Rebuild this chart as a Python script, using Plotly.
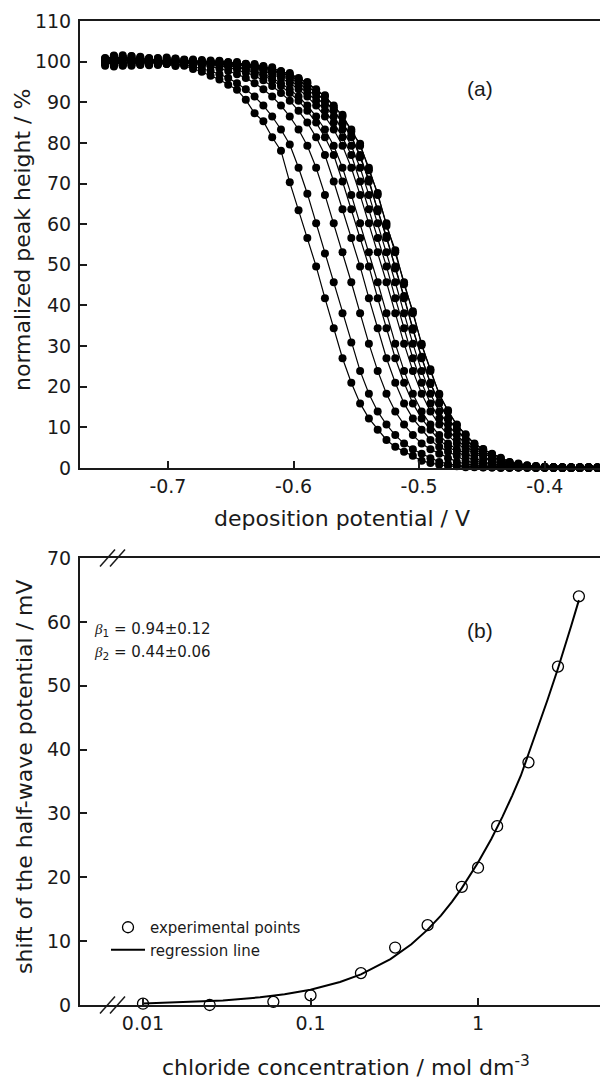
import plotly.graph_objects as go

# ---------------- panel (a): normalized peak height vs deposition potential
potential_V = [-0.750, -0.743, -0.736, -0.729, -0.722, -0.715, -0.708, -0.701, -0.694, -0.687,
               -0.680, -0.673, -0.666, -0.659, -0.652, -0.645, -0.638, -0.631, -0.624, -0.617,
               -0.610, -0.603, -0.596, -0.589, -0.582, -0.575, -0.568, -0.561, -0.554, -0.547,
               -0.540, -0.533, -0.526, -0.519, -0.512, -0.505, -0.498, -0.491, -0.484, -0.477,
               -0.470, -0.463, -0.456, -0.449, -0.442, -0.435, -0.428, -0.421, -0.414, -0.407,
               -0.400, -0.393, -0.386, -0.379, -0.372, -0.365, -0.358]

height_c4_0 = [99.0, 100.6, 101.2, 99.3, 100.5, 99.1, 100.2, 99.6, 98.9, 99.0,
               98.2, 97.5, 96.5, 95.6, 94.3, 93.1, 90.6, 87.3, 85.3, 81.4,
               78.1, 70.3, 63.4, 56.6, 49.6, 41.8, 34.4, 27.0, 21.0, 15.9,
               12.2, 9.4, 6.9, 5.2, 4.0, 3.0, 1.8, 1.2, 0.8, 0.5,
               0.4, 0.2, 0.2, 0.1, 0.1, 0.0, 0.2, 0.1, 0.0, 0.1,
               0.2, 0.0, 0.1, 0.0, 0.1, 0.2, 0.0]
height_c3_0 = [100.3, 98.8, 101.0, 100.1, 99.4, 100.7, 99.8, 99.6, 99.4, 99.2,
               98.8, 98.3, 97.7, 96.9, 96.0, 94.7, 93.2, 91.4, 89.2, 86.5,
               83.3, 79.6, 73.9, 67.5, 60.2, 52.8, 45.7, 38.1, 30.9, 23.9,
               18.3, 13.9, 10.7, 8.1, 6.0, 4.6, 3.5, 2.4, 1.5, 1.0,
               0.7, 0.4, 0.3, 0.2, 0.1, 0.1, 0.0, 0.1, 0.2, 0.0,
               0.1, 0.0, 0.1, 0.2, 0.0, 0.1, 0.0]
height_c2_0 = [99.6, 101.4, 99.2, 100.4, 100.9, 99.5, 100.3, 99.7, 100.2, 99.6,
               99.4, 99.1, 98.8, 98.3, 97.7, 96.9, 96.0, 94.7, 93.2, 91.4,
               89.2, 86.5, 83.3, 79.3, 73.9, 67.2, 60.2, 53.1, 45.7, 38.1,
               30.6, 23.9, 18.3, 13.9, 10.7, 8.1, 6.0, 4.6, 3.5, 2.4,
               1.5, 1.0, 0.7, 0.4, 0.3, 0.2, 0.1, 0.1, 0.2, 0.0,
               0.1, 0.1, 0.0, 0.2, 0.1, 0.0, 0.1]
height_c1_3 = [100.8, 99.3, 100.1, 101.3, 99.6, 100.4, 99.5, 100.6, 99.8, 99.8,
               99.7, 99.5, 99.3, 99.0, 98.6, 98.0, 97.3, 96.6, 95.4, 94.0,
               92.3, 90.4, 87.9, 85.0, 81.4, 77.0, 70.5, 63.7, 56.6, 49.6,
               41.8, 34.4, 27.0, 21.0, 15.9, 12.2, 9.4, 6.9, 5.2, 4.0,
               3.0, 1.8, 1.2, 0.8, 0.5, 0.3, 0.2, 0.2, 0.1, 0.1,
               0.0, 0.2, 0.1, 0.0, 0.1, 0.2, 0.1]
height_c1_0 = [99.4, 100.2, 101.6, 99.0, 100.5, 100.9, 99.4, 100.3, 99.2, 100.4,
               99.8, 99.7, 99.5, 99.3, 99.0, 98.6, 98.0, 97.3, 96.6, 95.4,
               94.0, 92.3, 90.4, 87.9, 85.0, 81.4, 77.0, 70.5, 63.7, 56.6,
               49.6, 41.8, 34.4, 27.0, 21.0, 15.9, 12.2, 9.4, 6.9, 5.2,
               4.0, 3.0, 1.8, 1.2, 0.8, 0.5, 0.3, 0.2, 0.2, 0.1,
               0.1, 0.2, 0.0, 0.1, 0.2, 0.0, 0.1]
height_c0_8 = [100.1, 99.5, 100.7, 101.1, 99.3, 100.0, 100.8, 99.6, 100.3, 99.5,
               100.2, 99.8, 99.6, 99.4, 99.2, 98.8, 98.3, 97.7, 96.9, 96.0,
               94.7, 93.2, 91.4, 89.2, 86.5, 83.3, 79.3, 73.9, 67.2, 60.2,
               53.1, 45.7, 38.1, 30.6, 23.9, 18.3, 13.9, 10.7, 8.1, 6.0,
               4.6, 3.5, 2.4, 1.5, 1.0, 0.7, 0.4, 0.3, 0.2, 0.1,
               0.2, 0.1, 0.0, 0.1, 0.2, 0.1, 0.0]
height_c0_5 = [99.7, 100.9, 99.1, 100.5, 101.0, 99.6, 100.3, 99.4, 100.6, 99.7,
               100.1, 99.9, 99.8, 99.6, 99.4, 99.2, 98.8, 98.3, 97.7, 96.9,
               96.0, 94.7, 93.2, 91.4, 89.2, 86.5, 83.3, 79.3, 73.9, 67.2,
               60.2, 53.1, 45.7, 38.1, 30.6, 23.9, 18.3, 13.9, 10.7, 8.1,
               6.0, 4.6, 3.5, 2.4, 1.5, 1.0, 0.7, 0.4, 0.3, 0.2,
               0.1, 0.1, 0.0, 0.2, 0.1, 0.0, 0.1]
height_c0_32 = [100.4, 99.2, 100.8, 99.9, 100.6, 99.3, 100.2, 99.5, 100.7, 99.6,
                100.0, 99.9, 99.8, 99.7, 99.5, 99.3, 99.0, 98.6, 98.0, 97.3,
                96.6, 95.4, 94.0, 92.3, 90.4, 87.9, 85.0, 81.4, 77.0, 70.5,
                63.7, 56.6, 49.6, 41.8, 34.4, 27.0, 21.0, 15.9, 12.2, 9.4,
                6.9, 5.2, 4.0, 3.0, 1.8, 1.2, 0.8, 0.5, 0.3, 0.2,
                0.2, 0.1, 0.1, 0.0, 0.1, 0.2, 0.0]
height_c0_2 = [100.2, 101.3, 99.4, 100.0, 99.2, 100.8, 100.1, 99.6, 100.4, 99.8,
               100.3, 99.9, 99.9, 99.8, 99.6, 99.4, 99.2, 98.8, 98.3, 97.7,
               96.9, 96.0, 94.7, 93.2, 91.4, 89.2, 86.5, 83.3, 79.3, 73.9,
               67.2, 60.2, 53.1, 45.7, 38.1, 30.6, 23.9, 18.3, 13.9, 10.7,
               8.1, 6.0, 4.6, 3.5, 2.4, 1.5, 1.0, 0.7, 0.4, 0.3,
               0.2, 0.1, 0.2, 0.1, 0.0, 0.1, 0.1]
height_c0_1 = [99.5, 100.6, 101.0, 99.3, 100.4, 99.7, 100.9, 99.5, 100.2, 99.6,
               100.5, 99.8, 100.1, 99.8, 99.7, 99.5, 99.3, 99.0, 98.6, 98.0,
               97.3, 96.6, 95.4, 94.0, 92.3, 90.4, 87.9, 85.0, 81.4, 77.0,
               70.5, 63.7, 56.6, 49.6, 41.8, 34.4, 27.0, 21.0, 15.9, 12.2,
               9.4, 6.9, 5.2, 4.0, 3.0, 1.8, 1.2, 0.8, 0.5, 0.3,
               0.2, 0.2, 0.1, 0.1, 0.0, 0.1, 0.2]
height_c0_06 = [100.9, 99.1, 100.3, 101.4, 99.6, 100.5, 99.2, 100.7, 99.9, 100.4,
                99.5, 100.2, 99.7, 100.1, 99.9, 99.4, 99.5, 98.8, 98.9, 97.7,
                97.6, 96.2, 95.8, 93.7, 92.6, 90.1, 88.3, 84.6, 81.9, 76.5,
                71.0, 63.2, 57.1, 49.1, 42.3, 34.0, 27.4, 20.7, 16.2, 12.0,
                9.6, 6.8, 5.3, 3.9, 3.1, 1.8, 1.3, 0.7, 0.5, 0.4,
                0.2, 0.1, 0.2, 0.1, 0.0, 0.1, 0.0]
height_c0_01 = [99.8, 100.2, 99.0, 100.6, 101.2, 99.4, 100.3, 99.7, 100.8, 99.6,
                100.2, 99.7, 100.3, 99.9, 99.8, 99.6, 99.4, 99.2, 98.8, 98.3,
                97.7, 96.9, 96.0, 94.7, 93.2, 91.4, 89.2, 86.5, 83.3, 79.3,
                73.9, 67.2, 60.2, 53.1, 45.7, 38.1, 30.6, 23.9, 18.3, 13.9,
                10.7, 8.1, 6.0, 4.6, 3.5, 2.4, 1.5, 1.0, 0.7, 0.4,
                0.3, 0.2, 0.1, 0.1, 0.2, 0.0, 0.1]
height_c0_025 = [100.5, 101.5, 99.6, 99.9, 100.7, 100.1, 99.5, 101.0, 99.8, 100.5,
                 99.9, 100.4, 99.6, 100.2, 99.6, 99.9, 99.2, 99.4, 98.5, 98.6,
                 97.4, 97.2, 95.7, 95.0, 92.8, 91.7, 88.8, 86.9, 82.8, 79.8,
                 73.3, 67.7, 59.6, 53.6, 45.2, 38.6, 30.2, 24.3, 18.0, 14.2,
                 10.5, 8.3, 5.9, 4.7, 3.4, 2.5, 1.4, 1.1, 0.6, 0.5,
                 0.3, 0.2, 0.1, 0.0, 0.1, 0.2, 0.1]

peak_curves = [height_c4_0, height_c3_0, height_c2_0, height_c1_3, height_c1_0,
               height_c0_8, height_c0_5, height_c0_32, height_c0_2, height_c0_1,
               height_c0_06, height_c0_01, height_c0_025]

# ---------------- panel (b): half-wave potential shift vs chloride concentration
chloride_conc = [0.01, 0.025, 0.06, 0.1, 0.2, 0.32, 0.5, 0.8, 1.0, 1.3, 2.0, 3.0, 4.0]
shift_mV = [0.2, 0.0, 0.5, 1.5, 5.0, 9.0, 12.5, 18.5, 21.5, 28.0, 38.0, 53.0, 64.0]

regression_conc = [0.01, 0.02, 0.03, 0.05, 0.07, 0.1, 0.15, 0.2, 0.3, 0.4, 0.5, 0.6, 0.7,
                   0.8, 1.0, 1.2, 1.4, 1.6, 1.8, 2.0, 2.3, 2.6, 3.0, 3.3, 3.6, 4.0]
regression_shift = [0.25, 0.5, 0.7, 1.2, 1.7, 2.4, 3.6, 4.8, 7.2, 9.5, 11.8, 14.0, 16.2,
                    18.3, 22.3, 26.0, 29.5, 32.8, 35.9, 39.3, 43.7, 47.8, 52.7, 56.1, 59.4, 63.4]

x_ticks_top = [-0.7, -0.6, -0.5, -0.4]
x_ticks_bottom = [0.01, 0.1, 1]

INK = "#1a1a1a"
FONT = "DejaVu Sans"

fig = go.Figure()

for ys in peak_curves:
    fig.add_trace(go.Scatter(
        x=potential_V, y=ys, mode="lines+markers", xaxis="x", yaxis="y",
        line=dict(color="black", width=1.2),
        marker=dict(color="black", size=8),
        cliponaxis=False, showlegend=False, hoverinfo="skip"))

fig.add_trace(go.Scatter(
    x=chloride_conc, y=shift_mV, mode="markers", xaxis="x2", yaxis="y2",
    name="experimental points",
    marker=dict(symbol="circle-open", size=11, color="black", line=dict(width=1.3, color="black")),
    cliponaxis=False, showlegend=True))
fig.add_trace(go.Scatter(
    x=regression_conc, y=regression_shift, mode="lines", xaxis="x2", yaxis="y2",
    name="regression line", line=dict(color="black", width=2),
    showlegend=True))

W, H = 600, 1079
def px(x):
    return x / W
def py(y):
    return 1 - y / H

axis_common = dict(showline=True, linecolor=INK, linewidth=2, ticks="inside",
                   ticklen=7, tickwidth=1.5, tickcolor=INK, showgrid=False,
                   zeroline=False, automargin=False,
                   tickfont=dict(size=19, color=INK, family=FONT))

fig.update_layout(
    width=W, height=H, margin=dict(l=0, r=0, t=0, b=0, pad=0),
    paper_bgcolor="white", plot_bgcolor="white",
    font=dict(family=FONT, color=INK),
    xaxis=dict(domain=[px(80), 1], range=[-0.770, -0.356], anchor="y",
               tickvals=x_ticks_top, ticktext=["-0.7", "-0.6", "-0.5", "-0.4"],
               mirror=True, ticklabelstandoff=0, **axis_common),
    yaxis=dict(domain=[py(468), py(21)], range=[0, 110], anchor="x",
               tickvals=list(range(0, 111, 10)), ticklabelstandoff=3, **axis_common),
    xaxis2=dict(domain=[px(80), 1], type="log", range=[-2.376, 0.728], anchor="y2",
                tickvals=x_ticks_bottom, ticktext=["0.01", "0.1", "1"],
                mirror=True, ticklabelstandoff=0, **axis_common),
    yaxis2=dict(domain=[py(1005), py(558)], range=[0, 70], anchor="x2",
                tickvals=list(range(0, 71, 10)), ticklabelstandoff=3, **axis_common),
    legend=dict(x=px(106), y=py(911), xanchor="left", yanchor="top",
                bgcolor="rgba(0,0,0,0)", font=dict(size=15, color=INK, family=FONT),
                tracegroupgap=0, itemwidth=34),
)

title_font = dict(family=FONT, size=22, color=INK)
annotations = [
    dict(text="deposition potential / V", x=px(342), y=py(518), font=title_font),
    dict(text="normalized peak height / %", x=px(22), y=py(240), textangle=-90, font=title_font),
    dict(text="chloride concentration / mol dm<sup>-3</sup>", x=px(346), y=py(1066), font=title_font),
    dict(text="shift of the half-wave potential / mV", x=px(24), y=py(777), textangle=-90, font=title_font),
    dict(text="(a)", x=px(480), y=py(88), font=dict(family="Liberation Sans", size=21, color=INK)),
    dict(text="(b)", x=px(480), y=py(630), font=dict(family="Liberation Sans", size=21, color=INK)),
    dict(text="<span style='font-family:Liberation Serif'><i>β</i></span><sub>1</sub> = 0.94±0.12",
         x=px(92), y=py(629), xanchor="left", font=dict(size=15, color=INK, family=FONT)),
    dict(text="<span style='font-family:Liberation Serif'><i>β</i></span><sub>2</sub> = 0.44±0.06",
         x=px(92), y=py(652), xanchor="left", font=dict(size=15, color=INK, family=FONT)),
]
for a in annotations:
    a.setdefault("xanchor", "center")
    a.update(xref="paper", yref="paper", yanchor="middle", showarrow=False)
fig.update_layout(annotations=annotations)

# axis-break marks (//) on the bottom panel's x axis, top and bottom
break_shapes = []
for ybase in (558, 1005):
    for x0 in (100, 110):
        break_shapes.append(dict(type="line", xref="paper", yref="paper",
                                 x0=px(x0), y0=py(ybase + 8.5), x1=px(x0 + 15), y1=py(ybase - 8.5),
                                 line=dict(color=INK, width=1.5)))
fig.update_layout(shapes=break_shapes)

fig.write_html("out.html")
